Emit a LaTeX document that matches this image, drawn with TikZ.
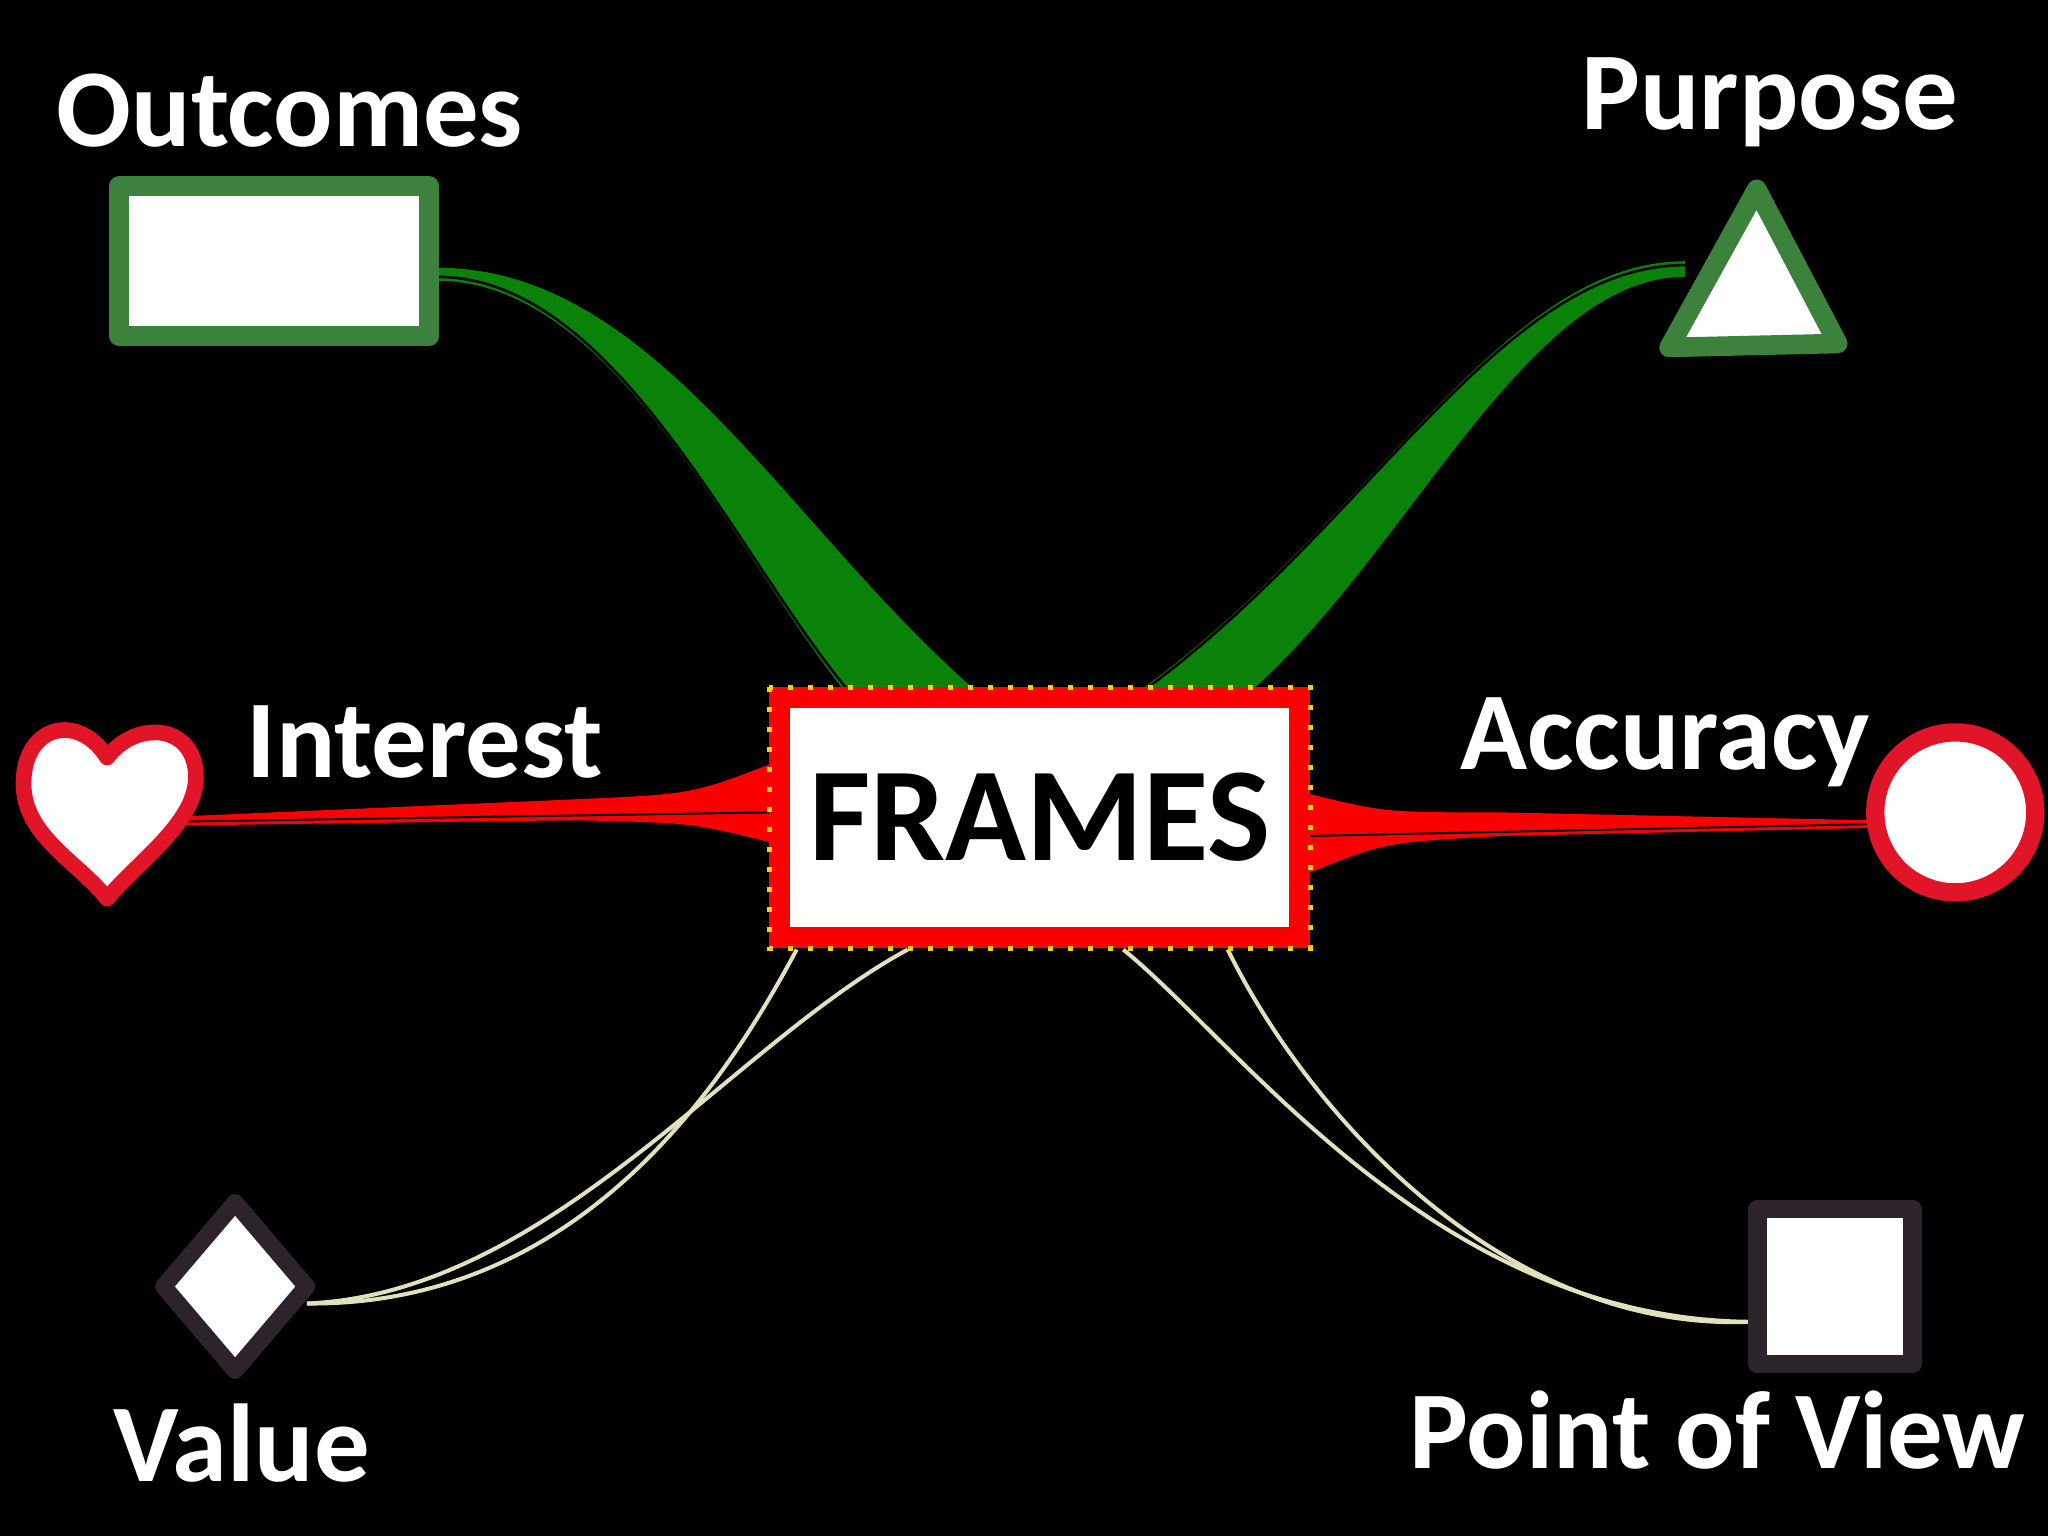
\documentclass[tikz,border=0pt]{standalone}
\usepackage{fontspec}
\setmainfont{Carlito}
\usetikzlibrary{shapes.geometric}
\definecolor{mgreen}{RGB}{60,130,60}
\definecolor{tgreen}{RGB}{10,130,10}
\definecolor{mred}{RGB}{225,20,40}
\definecolor{fred}{RGB}{250,0,0}
\definecolor{dgray}{RGB}{45,35,45}
\definecolor{thin}{RGB}{225,225,190}
\begin{document}
\begin{tikzpicture}[x=0.01306cm,y=-0.01306cm,
  lbl/.style={text=white,font=\fontsize{31.5}{36}\selectfont\bfseries},
  thinline/.style={draw=thin,line width=0.04cm},
  shp/.style={fill=white,line width=0.196cm,line join=round}]
\fill[black] (0,0) rectangle (1568,1176);
\useasboundingbox (0,0) rectangle (1568,1176);
% connectors
\coordinate (oc) at (335,210);
\coordinate (pc) at (1290,206);
\coordinate (hc) at (140,628);
\coordinate (cc) at (1430,631);
\coordinate (dc) at (235,998);
\coordinate (sc) at (1340,1012);
\fill[tgreen] (oc) ++(0,-5) .. controls (500,205) and (600,400) .. (745,527) -- (645,527) .. controls (560,420) and (470,215) .. (335,215) -- cycle;
\draw[thin,line width=0.026cm] (335,212) .. controls (470,212) and (560,420) .. (648,527);
\fill[tgreen] (pc) ++(0,-6) .. controls (1150,200) and (1050,400) .. (875,527) -- (960,527) .. controls (1080,420) and (1170,212) .. (1290,212) -- cycle;
\draw[thin,line width=0.026cm] (1290,203) .. controls (1150,203) and (1050,400) .. (878,527);
\fill[fred] (hc) ++(0,-3) -- (440,612) .. controls (530,608) .. (590,585) -- (590,645) .. controls (530,630) .. (440,628) -- (140,632) -- cycle;
\draw[thin,line width=0.02cm] (140,629) -- (590,622);
\fill[fred] (cc) ++(0,-3) -- (1150,622) .. controls (1060,622) .. (1003,608) -- (1003,668) .. controls (1060,645) .. (1150,640) -- (1430,634) -- cycle;
\draw[thin,line width=0.02cm] (1003,640) -- (1430,631);
\draw[thinline] (610,727) .. controls (560,820) and (450,1000) .. (dc);
\draw[thinline] (695,727) .. controls (560,800) and (420,990) .. (dc);
\draw[thinline] (860,727) .. controls (950,800) and (1100,1010) .. (sc);
\draw[thinline] (940,727) .. controls (1000,850) and (1150,1020) .. (sc);
% shapes
\node[shp,draw=mgreen,rectangle,minimum width=3.1cm,minimum height=1.5cm] (out) at (210,200) {};
\draw[shp,draw=mgreen] (1345,145) -- (1407,263) -- (1278,266) -- cycle;
\node (tri) at (1345,230) {};
\draw[shp,draw=mred,line width=0.157cm] (82,580) .. controls (60,545) and (18,555) .. (18,600) .. controls (18,640) and (60,660) .. (82,688) .. controls (105,660) and (150,630) .. (150,595) .. controls (150,555) and (105,550) .. (82,580) -- cycle;
\node (heart) at (85,615) {};
\node[shp,draw=mred,circle,minimum size=1.6cm,line width=0.183cm] (circ) at (1497,622) {};
\node[shp,draw=dgray,diamond,minimum width=1.5cm,minimum height=1.75cm,line width=0.17cm] (dia) at (180,985) {};
\node[shp,draw=dgray,rectangle,minimum width=1.55cm,minimum height=1.55cm,line width=0.183cm] (sq) at (1405,985) {};
% central
\node[fill=white,draw=fred,line width=0.21cm,minimum width=5.2cm,minimum height=2.4cm,
  font=\fontsize{38}{44}\selectfont\bfseries,text=black] (fr) at (796,626) {FRAMES};
\draw[yellow!70!orange,line width=0.05cm,dash pattern=on 0.05cm off 0.15cm] (fr.north west) rectangle (fr.south east);
% labels
\node[lbl] (l1) at (222,85) {Outcomes};
\node[lbl] (l2) at (1355,78) {Purpose};
\node[lbl] (l3) at (325,568) {Interest};
\node[lbl] (l4) at (1275,568) {Accuracy};
\node[lbl] (l5) at (185,1105) {Value};
\node[lbl] (l6) at (1315,1095) {Point of View};
\end{tikzpicture}
\end{document}
